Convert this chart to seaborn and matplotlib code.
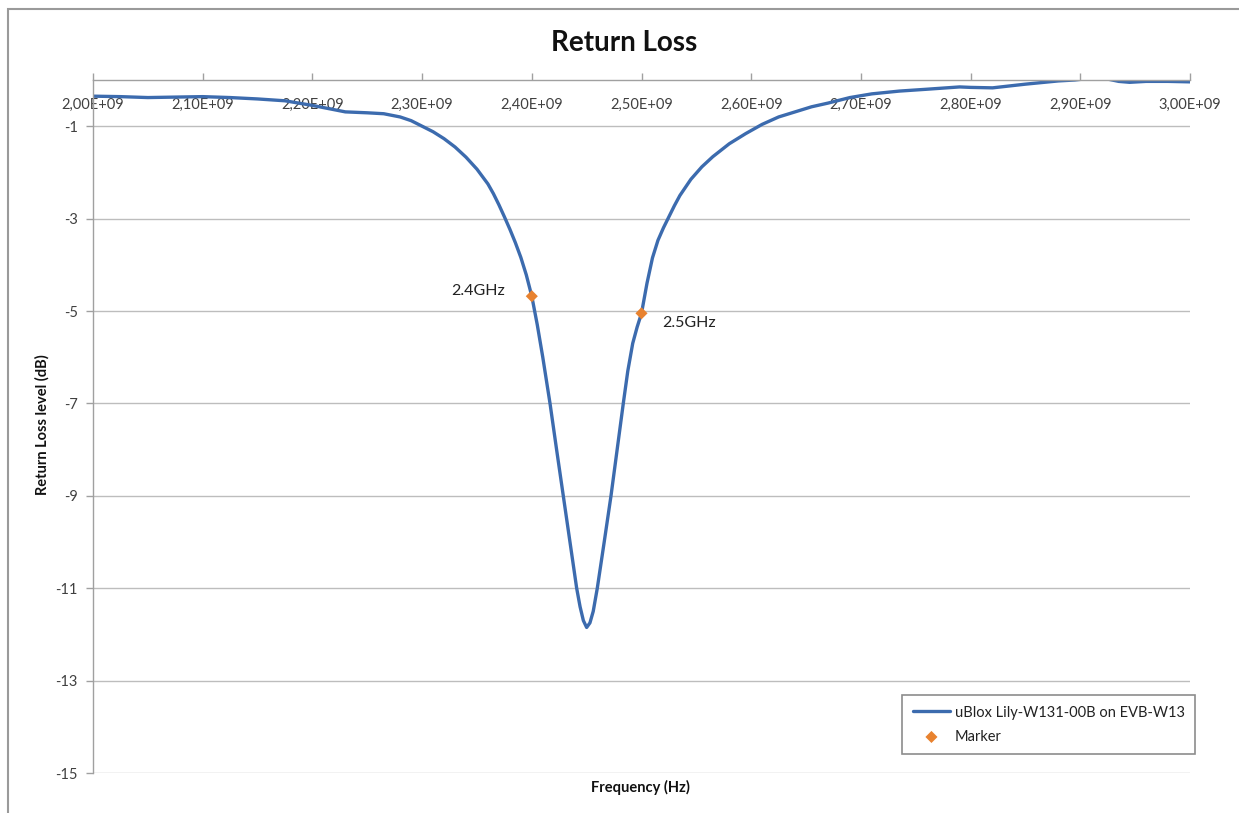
import matplotlib
matplotlib.use("Agg")
import matplotlib.pyplot as plt
import matplotlib.patches as mpatches
import numpy as np
import pandas as pd
import seaborn as sns

# Measured return loss of the antenna (frequency in GHz, level in dB)
freq_ghz = [2.000, 2.025, 2.050, 2.075, 2.100, 2.125, 2.150, 2.175, 2.200, 2.215,
            2.230, 2.250, 2.265, 2.280, 2.290, 2.300, 2.310, 2.320, 2.330, 2.340,
            2.350, 2.360, 2.365, 2.370, 2.375, 2.380, 2.385, 2.390, 2.395, 2.400,
            2.405, 2.410, 2.4166, 2.4226, 2.4287, 2.4348, 2.4409, 2.444, 2.447, 2.450,
            2.453, 2.456, 2.4597, 2.466, 2.4722, 2.4778, 2.4834, 2.4875, 2.492, 2.496,
            2.500, 2.505, 2.510, 2.515, 2.520, 2.525, 2.530, 2.535, 2.545, 2.555,
            2.565, 2.580, 2.595, 2.610, 2.625, 2.640, 2.655, 2.670, 2.690, 2.710,
            2.735, 2.760, 2.790, 2.800, 2.820, 2.850, 2.880, 2.895, 2.910, 2.925,
            2.935, 2.945, 2.960, 2.980, 3.000]
return_loss_db = [-0.35, -0.36, -0.38, -0.37, -0.36, -0.38, -0.41, -0.45, -0.55, -0.62,
                  -0.69, -0.71, -0.73, -0.80, -0.88, -1.00, -1.12, -1.27, -1.45, -1.67,
                  -1.93, -2.25, -2.46, -2.70, -2.96, -3.23, -3.52, -3.84, -4.22, -4.68,
                  -5.30, -6.00, -7.00, -8.00, -9.00, -10.00, -11.00, -11.40, -11.70, -11.85,
                  -11.75, -11.50, -11.00, -10.00, -9.00, -8.00, -7.00, -6.30, -5.70, -5.35,
                  -5.05, -4.40, -3.85, -3.47, -3.20, -2.96, -2.72, -2.50, -2.15, -1.88,
                  -1.66, -1.38, -1.16, -0.96, -0.80, -0.69, -0.58, -0.50, -0.38, -0.30,
                  -0.24, -0.20, -0.15, -0.16, -0.17, -0.09, -0.02, 0.00, 0.04, 0.02,
                  -0.03, -0.05, -0.03, -0.03, -0.04]

# Band-edge markers
marker_ghz = [2.4, 2.5]
marker_db = [-4.68, -5.05]
marker_labels = ["2.4GHz", "2.5GHz"]

x_ticks_ghz = [2.0, 2.1, 2.2, 2.3, 2.4, 2.5, 2.6, 2.7, 2.8, 2.9, 3.0]
x_tick_labels = ["2,00E+09", "2,10E+09", "2,20E+09", "2,30E+09", "2,40E+09", "2,50E+09",
                 "2,60E+09", "2,70E+09", "2,80E+09", "2,90E+09", "3,00E+09"]
y_ticks = [-1, -3, -5, -7, -9, -11, -13, -15]

series_name = "uBlox Lily-W131-00B on EVB-W13"
marker_name = "Marker"

curve = pd.DataFrame({"Frequency (Hz)": np.array(freq_ghz) * 1e9,
                      "Return Loss level (dB)": return_loss_db})
marks = pd.DataFrame({"Frequency (Hz)": np.array(marker_ghz) * 1e9,
                      "Return Loss level (dB)": marker_db})

sns.set_theme(style="white")
plt.rcParams["font.family"] = ["Lato", "DejaVu Sans"]

W, H = 1239, 813
fig = plt.figure(figsize=(W / 100, H / 100), dpi=100)
ax = fig.add_axes([93 / W, 1 - 773 / H, (1190 - 93) / W, (773 - 80) / H])

line_color = "#3C6BAE"
mark_color = "#E8822F"
grid_color = "#BDBDBD"
text_color = "#404040"

sns.lineplot(data=curve, x="Frequency (Hz)", y="Return Loss level (dB)", ax=ax,
             color=line_color, linewidth=2.4, label=series_name, sort=False)
sns.scatterplot(data=marks, x="Frequency (Hz)", y="Return Loss level (dB)", ax=ax,
                color=mark_color, marker="D", s=38, edgecolor="none",
                label=marker_name, zorder=5)

for xv, yv, txt in zip(marker_ghz, marker_db, marker_labels):
    if xv < 2.45:
        ax.annotate(txt, (xv * 1e9, yv), xytext=(-19, 4), textcoords="offset points",
                    ha="right", va="center", fontsize=11.5, color="#222222")
    else:
        ax.annotate(txt, (xv * 1e9, yv), xytext=(15, -7), textcoords="offset points",
                    ha="left", va="center", fontsize=11.5, color="#222222")

ax.set_xlim(2.0e9, 3.0e9)
ax.set_ylim(-15, 0)

# Horizontal grid at the labelled levels
ax.set_yticks(y_ticks)
ax.set_yticklabels([str(v) for v in y_ticks], fontsize=10.5, color=text_color)
for v in y_ticks:
    ax.axhline(v, color=grid_color, linewidth=1.0, zorder=0)
ax.grid(False)

# Category axis runs along the top (0 dB) with labels hanging below it
ax.set_xticks([v * 1e9 for v in x_ticks_ghz])
ax.set_xticklabels(x_tick_labels, fontsize=10.5, color=text_color)
ax.tick_params(axis="x", top=True, bottom=False, labeltop=True, labelbottom=False,
               direction="out", length=5, width=1, color="#A0A0A0", pad=-18)
ax.tick_params(axis="y", left=True, direction="out", length=5, width=1,
               color="#A0A0A0", pad=6)
for lbl in ax.get_xticklabels():
    lbl.set_verticalalignment("top")

for side in ["right", "bottom"]:
    ax.spines[side].set_visible(False)
for side in ["left", "top"]:
    ax.spines[side].set_color("#A0A0A0")
    ax.spines[side].set_linewidth(1.0)

ax.set_xlabel("")
ax.set_ylabel("")
fig.text(42 / W, 1 - 425 / H, "Return Loss level (dB)", rotation=90, ha="center",
         va="center", fontsize=10.5, fontweight="bold", color="#111111")
fig.text(640 / W, 1 - 787 / H, "Frequency (Hz)", ha="center", va="center",
         fontsize=10.5, fontweight="bold", color="#111111")
fig.text(624 / W, 1 - 43 / H, "Return Loss", ha="center", va="center",
         fontsize=20, fontweight="bold", color="#111111")

leg = ax.legend(loc="lower right", bbox_to_anchor=(1195 / W, 1 - 754 / H),
                bbox_transform=fig.transFigure, frameon=True, fancybox=False,
                fontsize=10.5, borderpad=0.7, handlelength=2.6, labelspacing=0.7,
                handletextpad=0.3, borderaxespad=0)
leg.get_frame().set_edgecolor("#707070")
leg.get_frame().set_linewidth(1.2)
for t in leg.get_texts():
    t.set_color("#222222")

# Chart area border
fig.patches.append(mpatches.Rectangle((8 / W, -0.1), 1.5, 1 - 9 / H + 0.1, fill=False,
                                      edgecolor="#9A9A9A", linewidth=1.5,
                                      transform=fig.transFigure, figure=fig))

fig.savefig("out.png", dpi=100)
